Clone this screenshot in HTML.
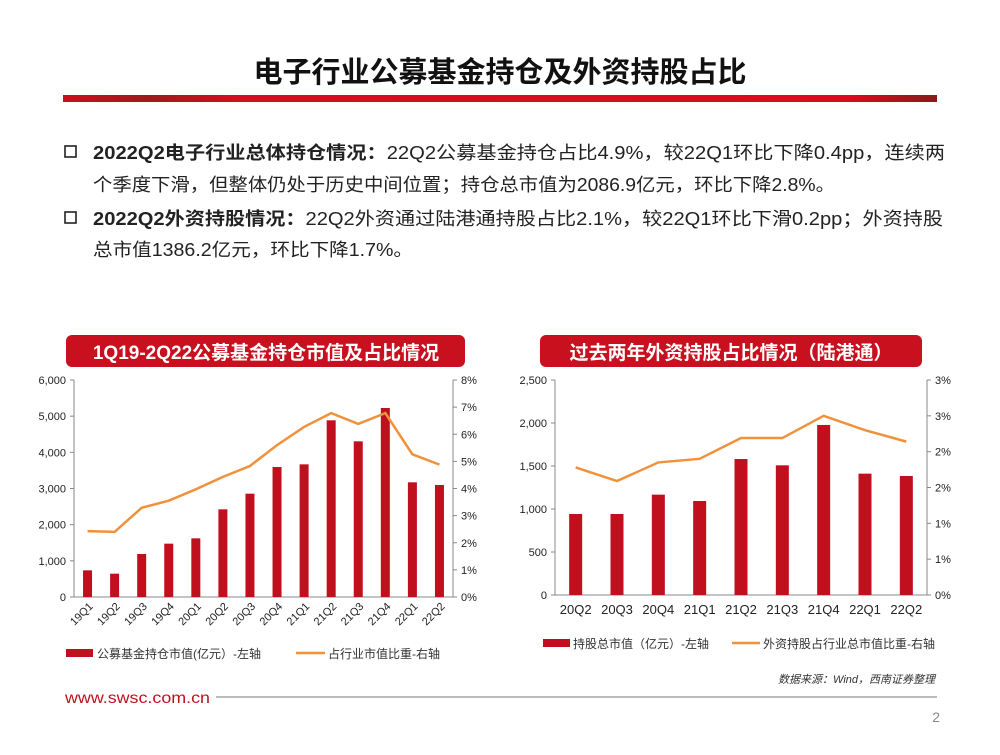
<!DOCTYPE html>
<html><head><meta charset="utf-8"><style>
body{margin:0;background:#fff;width:1000px;height:750px;overflow:hidden;font-family:"Liberation Sans","Noto Sans CJK SC",sans-serif}
svg text{font-family:"Liberation Sans","Noto Sans CJK SC",sans-serif}
</style></head><body>
<svg id="s" width="1000" height="750" xmlns="http://www.w3.org/2000/svg">
<defs><linearGradient id="rg" x1="0" x2="1"><stop offset="0" stop-color="#c8101e"/><stop offset="0.1" stop-color="#a01a1a"/><stop offset="0.2" stop-color="#d0101e"/><stop offset="0.9" stop-color="#d80c1c"/><stop offset="1" stop-color="#8a1a1a"/></linearGradient></defs>
<text x="500" y="82" text-anchor="middle" font-size="29" font-weight="bold" fill="#111">电子行业公募基金持仓及外资持股占比</text>
<rect x="63" y="95" width="874" height="7" fill="url(#rg)"/>
<g font-size="18" fill="#222">
<rect x="65" y="146" width="11" height="11" fill="none" stroke="#222" stroke-width="1.6"/>
<text x="93" y="159" textLength="852" lengthAdjust="spacingAndGlyphs"><tspan font-weight="bold">2022Q2电子行业总体持仓情况：</tspan>22Q2公募基金持仓占比4.9%，较22Q1环比下降0.4pp，连续两</text>
<text x="93" y="191" textLength="742" lengthAdjust="spacingAndGlyphs">个季度下滑，但整体仍处于历史中间位置；持仓总市值为2086.9亿元，环比下降2.8%。</text>
<rect x="65" y="212" width="11" height="11" fill="none" stroke="#222" stroke-width="1.6"/>
<text x="93" y="225" textLength="850" lengthAdjust="spacingAndGlyphs"><tspan font-weight="bold">2022Q2外资持股情况：</tspan>22Q2外资通过陆港通持股占比2.1%，较22Q1环比下滑0.2pp；外资持股</text>
<text x="93" y="256" textLength="320" lengthAdjust="spacingAndGlyphs">总市值1386.2亿元，环比下降1.7%。</text>
</g>
<rect x="66" y="335" width="399" height="32" rx="6" fill="#c8101e"/>
<text x="266" y="359" text-anchor="middle" font-size="19" font-weight="bold" fill="#fff">1Q19-2Q22公募基金持仓市值及占比情况</text>
<rect x="540" y="335" width="382" height="32" rx="6" fill="#c8101e"/>
<text x="731" y="359" text-anchor="middle" font-size="19" font-weight="bold" fill="#fff">过去两年外资持股占比情况（陆港通）</text>
<g id="c1"></g>
<g id="c2"></g>
<g font-size="12" fill="#333">
<rect x="66" y="649" width="27" height="8" fill="#c0101e"/>
<text x="97" y="658">公募基金持仓市值(亿元）-左轴</text>
<line x1="296" y1="653" x2="325" y2="653" stroke="#f0913c" stroke-width="2.5"/>
<text x="328" y="658">占行业市值比重-右轴</text>
<rect x="543" y="639" width="27" height="8" fill="#c0101e"/>
<text x="573" y="648">持股总市值（亿元）-左轴</text>
<line x1="732" y1="643" x2="760" y2="643" stroke="#f0913c" stroke-width="2.5"/>
<text x="763" y="648">外资持股占行业总市值比重-右轴</text>
</g>
<text x="935" y="683" text-anchor="end" font-size="11" font-style="italic" fill="#333">数据来源：Wind，西南证券整理</text>
<text x="65" y="703" font-size="16" fill="#c0101e" textLength="145" lengthAdjust="spacingAndGlyphs">www.swsc.com.cn</text>
<line x1="216" y1="697" x2="937" y2="697" stroke="#bbb" stroke-width="2"/>
<text x="940" y="722" text-anchor="end" font-size="14" fill="#888">2</text>
</svg>
<script>
const cats1=["19Q1","19Q2","19Q3","19Q4","20Q1","20Q2","20Q3","20Q4","21Q1","21Q2","21Q3","21Q4","22Q1","22Q2"];
const bars1=[737,645,1189,1475,1622,2424,2857,3594,3668,4885,4304,5226,3171,3097];
const line1=[2.43,2.40,3.29,3.55,3.97,4.43,4.83,5.60,6.27,6.78,6.38,6.78,5.26,4.88];
const leftTicks1=[0,1000,2000,3000,4000,5000,6000];
const rightTicks1=[0,1,2,3,4,5,6,7,8];
const rightLabels1=["0%","1%","2%","3%","4%","5%","6%","7%","8%"];
const cats2=["20Q2","20Q3","20Q4","21Q1","21Q2","21Q3","21Q4","22Q1","22Q2"];
const bars2=[942,942,1167,1093,1581,1508,1977,1411,1384];
const line2=[1.78,1.59,1.85,1.90,2.19,2.19,2.50,2.30,2.14];
const leftTicks2=[0,500,1000,1500,2000,2500];
const rightTicks2=[0,0.5,1,1.5,2,2.5,3];
const rightLabels2=["0%","1%","1%","2%","2%","3%","3%"];
const NS="http://www.w3.org/2000/svg";
function mk(p,t,a){const e=document.createElementNS(NS,t);for(const k in a)e.setAttribute(k,a[k]);p.appendChild(e);return e;}
function draw(g,o){
 const n=o.cats.length,bw=(o.xr-o.xl)/n;
 const yL=v=>o.y0-(v/o.lmax)*(o.y0-o.yt);
 const yR=v=>o.y0-(v/o.rmax)*(o.y0-o.yt);
 const xc=i=>o.xl+bw*(i+0.5);
 const ax=mk(g,'path',{d:`M${o.xl},${o.yt}V${o.y0}H${o.xr}M${o.xr},${o.yt}V${o.y0}`,stroke:'#888',fill:'none','stroke-width':1});
 
 
 o.lt.forEach(v=>{const y=yL(v);mk(g,'line',{x1:o.xl-4,x2:o.xl,y1:y,y2:y,stroke:'#888'});
  const t=mk(g,'text',{x:o.xl-8,y:y+4,'text-anchor':'end','font-size':11,fill:'#222'});t.textContent=v.toLocaleString('en-US');
  
  });
 o.rt.forEach((v,i)=>{const y=yR(v);mk(g,'line',{x1:o.xr,x2:o.xr+4,y1:y,y2:y,stroke:'#888'});
  const t=mk(g,'text',{x:o.xr+8,y:y+4,'font-size':11,fill:'#222'});t.textContent=o.rl[i];
  
  });
 o.bars.forEach((v,i)=>{const y=yL(v);const r=mk(g,'rect',{x:xc(i)-o.bwid/2,y:y,width:o.bwid,height:o.y0-y,fill:'#c0101e'});
  
  });
 const pl=mk(g,'polyline',{points:o.line.map((v,i)=>xc(i)+','+yR(v)).join(' '),fill:'none',stroke:'#f0913c','stroke-width':2.5});
 
 
 o.cats.forEach((c,i)=>{let t;
  if(o.rot){t=mk(g,'text',{x:xc(i)+6,y:o.y0+10,'text-anchor':'end','font-size':11,fill:'#222',transform:`rotate(-45 ${xc(i)+6} ${o.y0+10})`});}
  else{t=mk(g,'text',{x:xc(i),y:o.y0+19,'text-anchor':'middle','font-size':13,fill:'#222'});}
  t.textContent=c;
  
  });
}
draw(document.getElementById('c1'),{cats:cats1,bars:bars1,line:line1,lt:leftTicks1,rt:rightTicks1,rl:rightLabels1,lmax:6000,rmax:8,xl:74,xr:453,y0:597,yt:380,bwid:9,rot:true});
draw(document.getElementById('c2'),{cats:cats2,bars:bars2,line:line2,lt:leftTicks2,rt:rightTicks2,rl:rightLabels2,lmax:2500,rmax:3,xl:555,xr:927,y0:595,yt:380,bwid:13,rot:false});
</script>
</body></html>
